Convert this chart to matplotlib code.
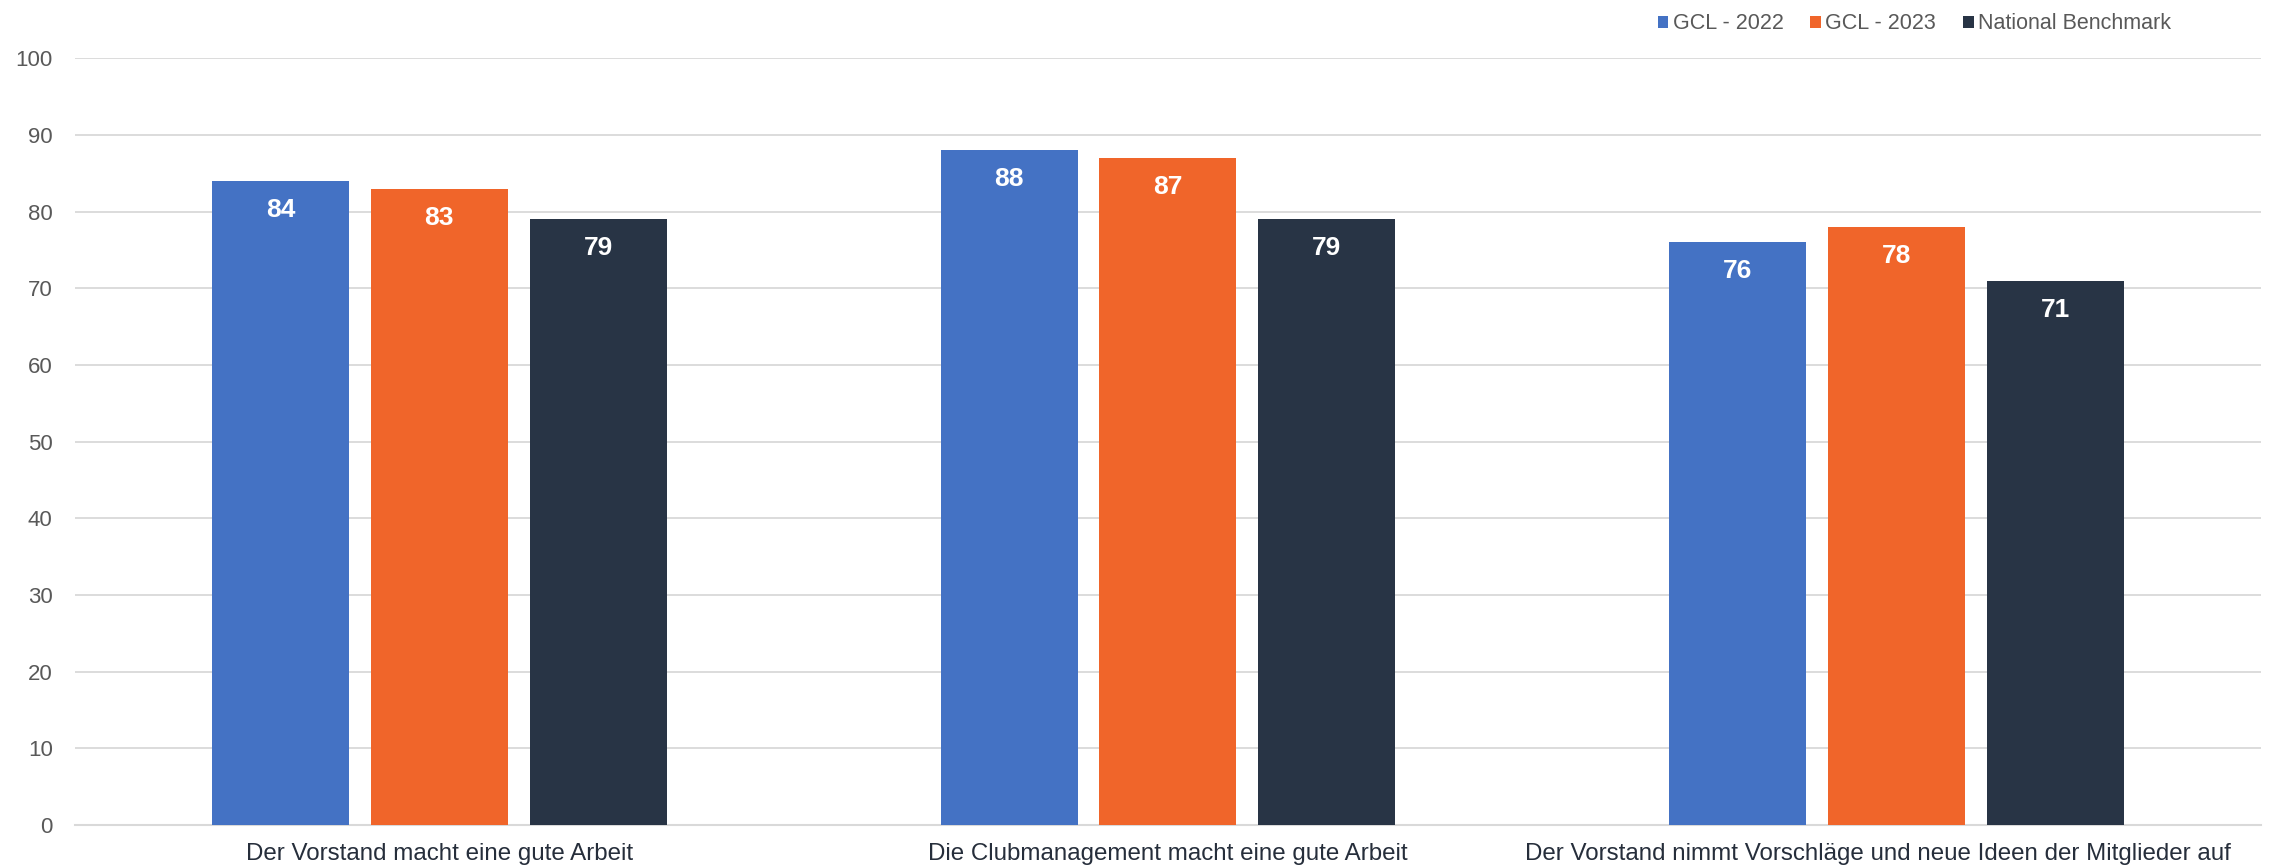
import numpy as np
import matplotlib.pyplot as plt
from matplotlib.transforms import ScaledTranslation

plt.rcParams["font.family"] = ["Liberation Sans", "DejaVu Sans"]

categories = [
    "Der Vorstand macht eine gute Arbeit",
    "Die Clubmanagement macht eine gute Arbeit",
    "Der Vorstand nimmt Vorschläge und neue Ideen der Mitglieder auf",
]
series_names = ["GCL - 2022", "GCL - 2023", "National Benchmark"]
gcl_2022 = [84, 88, 76]
gcl_2023 = [83, 87, 78]
benchmark = [79, 79, 71]
colors = ["#4472C4", "#F0652A", "#283445"]

fig = plt.figure(figsize=(22.7, 8.68), dpi=100)
ax = fig.add_axes([0.033, 0.0495, 0.963, 0.8835])

x = np.arange(len(categories))
width = 0.188
step = 0.218

for i, (vals, name, col) in enumerate(zip([gcl_2022, gcl_2023, benchmark], series_names, colors)):
    bars = ax.bar(x + (i - 1) * step, vals, width, color=col, label=name, zorder=3)
    for b, v in zip(bars, vals):
        ax.annotate(f"{v}", (b.get_x() + b.get_width() / 2, v),
                    xytext=(0, -21), textcoords="offset points",
                    ha="center", va="center", color="white",
                    fontsize=19, fontweight="bold", zorder=4)

ax.set_xlim(-0.5, 2.5)
ax.set_ylim(0, 100)
ax.set_yticks(range(0, 101, 10))
ax.set_xticks(x)
ax.set_xticklabels(categories, fontsize=17.4, color="#262E3B")
ax.tick_params(axis="y", length=0, pad=16, labelsize=16, labelcolor="#595959")
ax.tick_params(axis="x", length=0, pad=13)

# the long last label is nudged left so it stays inside the figure
last = ax.get_xticklabels()[2]
last.set_transform(last.get_transform() + ScaledTranslation(-0.19, 0, fig.dpi_scale_trans))

ax.grid(axis="y", color="#D9D9D9", linewidth=1.3, zorder=0)
ax.set_axisbelow(True)
for s in ["top", "right", "left"]:
    ax.spines[s].set_visible(False)
ax.spines["bottom"].set_color("#D9D9D9")
ax.spines["bottom"].set_linewidth(1.5)

leg = fig.legend(loc="upper right", bbox_to_anchor=(0.965, 1.007), ncol=3,
                 frameon=False, fontsize=15.5, handlelength=0.5, handleheight=0.5,
                 handletextpad=0.2, columnspacing=1.25)
for t in leg.get_texts():
    t.set_color("#595959")

fig.savefig("out.png", dpi=100)
